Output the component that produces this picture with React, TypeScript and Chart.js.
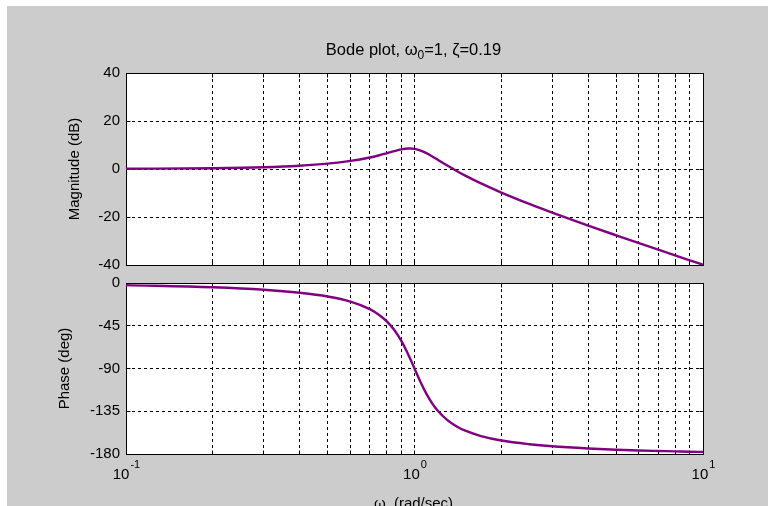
import React, { useEffect, useRef } from "react";
import { Chart, registerables } from "chart.js";

Chart.register(...registerables);

const FONT = '"Liberation Sans", Arial, Helvetica, sans-serif';

// frequency samples (rad/sec)
const omega = [0.1, 0.2, 0.3, 0.4, 0.5, 0.6, 0.7, 0.75, 0.8, 0.85, 0.9, 0.95, 0.97, 1.0, 1.05, 1.1, 1.15, 1.2, 1.3, 1.4, 1.5, 1.7, 2, 2.5, 3, 4, 5, 6, 7, 8, 9, 10];
// magnitude (dB)
const magnitudeDb = [0.08, 0.33, 0.75, 1.38, 2.23, 3.36, 4.8, 5.64, 6.54, 7.42, 8.15, 8.54, 8.56, 8.4, 7.7, 6.6, 5.3, 3.96, 1.43, -0.81, -2.76, -6.01, -9.81, -14.54, -18.15, -23.57, -27.63, -30.9, -33.64, -36.0, -38.07, -39.92];
// phase (deg)
const phaseDeg = [-2.2, -4.5, -7.1, -10.3, -14.2, -19.6, -27.5, -33.1, -40.2, -49.3, -61.0, -74.9, -80.9, -90.0, -104.4, -116.7, -126.4, -134.0, -144.4, -151.0, -155.5, -161.1, -165.8, -169.7, -171.9, -174.2, -175.5, -176.3, -176.8, -177.2, -177.6, -177.8];

const xGridTicks = [0.1, 0.2, 0.3, 0.4, 0.5, 0.6, 0.7, 0.8, 0.9, 1, 2, 3, 4, 5, 6, 7, 8, 9, 10];
const magTicks = [-40, -20, 0, 20, 40];
const phaseTicks = [-180, -135, -90, -45, 0];
const xLabelValues = [0.1, 1, 10];
const xLabelExponents = ["-1", "0", "1"];

const titleMain1 = "Bode plot, ω";
const titleSub = "0";
const titleMain2 = "=1, ζ=0.19";
const xTitle = "ω  (rad/sec)";
const magTitle = "Magnitude (dB)";
const phaseTitle = "Phase (deg)";

const LINE_COLOR = "#800080";

const align = (v: number) => Math.round(v - 0.5) + 0.5;

const plotBackground = {
  id: "plotBackground",
  beforeDraw(chart: any) {
    const { ctx, chartArea: a } = chart;
    ctx.save();
    ctx.fillStyle = "#ffffff";
    ctx.fillRect(a.left, a.top, a.right - a.left, a.bottom - a.top);
    ctx.restore();
  },
};

const frameAndTicks = {
  id: "frameAndTicks",
  beforeDatasetsDraw(chart: any) {
    const { ctx, chartArea: a, scales } = chart;
    const L = align(a.left), R = align(a.right), T = align(a.top), B = align(a.bottom);
    ctx.save();
    ctx.strokeStyle = "#000";
    ctx.lineWidth = 1;
    ctx.setLineDash([]);
    ctx.beginPath();
    ctx.rect(L, T, R - L, B - T);
    const tl = 4;
    for (const v of xGridTicks) {
      const x = align(scales.x.getPixelForValue(v));
      ctx.moveTo(x, B); ctx.lineTo(x, B - tl);
      ctx.moveTo(x, T); ctx.lineTo(x, T + tl);
    }
    for (const t of scales.y.ticks) {
      const y = align(scales.y.getPixelForValue(t.value));
      ctx.moveTo(L, y); ctx.lineTo(L + tl, y);
      ctx.moveTo(R, y); ctx.lineTo(R - tl, y);
    }
    ctx.stroke();
    ctx.restore();
  },
};

const titlePlugin = {
  id: "bodeTitle",
  afterDraw(chart: any) {
    const { ctx, chartArea: a } = chart;
    const cx = (a.left + a.right) / 2 - 1;
    const base = 55;
    ctx.save();
    ctx.fillStyle = "#000";
    ctx.textBaseline = "alphabetic";
    ctx.textAlign = "left";
    const big = `16.5px ${FONT}`;
    const small = `12px ${FONT}`;
    ctx.font = big;
    const w1 = ctx.measureText(titleMain1).width;
    const w3 = ctx.measureText(titleMain2).width;
    ctx.font = small;
    const w2 = ctx.measureText(titleSub).width;
    let x = cx - (w1 + w2 + w3) / 2;
    ctx.font = big;
    ctx.fillText(titleMain1, x, base);
    x += w1;
    ctx.font = small;
    ctx.fillText(titleSub, x, base + 4);
    x += w2;
    ctx.font = big;
    ctx.fillText(titleMain2, x, base);
    ctx.restore();
  },
};

const xLabelsPlugin = {
  id: "xLabels",
  afterDraw(chart: any) {
    const { ctx, chartArea: a, scales } = chart;
    const big = `15px ${FONT}`;
    const small = `11px ${FONT}`;
    ctx.save();
    ctx.fillStyle = "#000";
    ctx.textAlign = "left";
    ctx.textBaseline = "alphabetic";
    xLabelValues.forEach((v, i) => {
      const px = scales.x.getPixelForValue(v);
      ctx.font = big;
      const wb = ctx.measureText("10").width;
      ctx.font = small;
      const ws = ctx.measureText(xLabelExponents[i]).width;
      const start = px - (wb + ws) / 2;
      ctx.font = big;
      ctx.fillText("10", start, a.bottom + 25);
      ctx.font = small;
      ctx.fillText(xLabelExponents[i], start + wb + 1, a.bottom + 14);
    });
    ctx.font = big;
    ctx.textAlign = "center";
    ctx.fillText(xTitle, (a.left + a.right) / 2 - 1, a.bottom + 54);
    ctx.restore();
  },
};

function buildConfig(
  values: number[],
  yMin: number,
  yMax: number,
  yTicks: number[],
  yTitle: string,
  yTitlePad: number,
  padTop: number,
  xAxisHeight: number,
  extra: any[]
): any {
  const gridCommon = { color: "#000", lineWidth: 1, drawTicks: false };
  return {
    type: "line",
    data: {
      datasets: [
        {
          data: omega.map((w, i) => ({ x: w, y: values[i] })),
          borderColor: LINE_COLOR,
          backgroundColor: LINE_COLOR,
          borderWidth: 2.4,
          pointRadius: 0,
          cubicInterpolationMode: "monotone",
          fill: false,
        },
      ],
    },
    options: {
      animation: false,
      responsive: false,
      maintainAspectRatio: false,
      events: [],
      layout: { padding: { top: padTop, right: 65, bottom: 0, left: 0 } },
      plugins: { legend: { display: false }, tooltip: { enabled: false }, title: { display: false } },
      scales: {
        x: {
          type: "logarithmic",
          min: 0.1,
          max: 10,
          afterBuildTicks: (s: any) => {
            s.ticks = xGridTicks.map((v) => ({ value: v }));
          },
          afterFit: (s: any) => {
            s.height = xAxisHeight;
            s.paddingLeft = 0;
            s.paddingRight = 0;
          },
          ticks: { display: false },
          grid: gridCommon,
          border: { display: false, dash: [3, 3] },
        },
        y: {
          type: "linear",
          min: yMin,
          max: yMax,
          afterBuildTicks: (s: any) => {
            s.ticks = yTicks.map((v) => ({ value: v }));
          },
          afterFit: (s: any) => {
            s.width = 126;
            s.paddingTop = 0;
            s.paddingBottom = 0;
          },
          ticks: { color: "#000", font: { family: FONT, size: 15 }, padding: 6 },
          grid: gridCommon,
          border: { display: false, dash: [3, 3] },
          title: {
            display: true,
            text: yTitle,
            color: "#000",
            font: { family: FONT, size: 15 },
            padding: { top: yTitlePad, bottom: 0 },
          },
        },
      },
    },
    plugins: [plotBackground, frameAndTicks, ...extra],
  };
}

export default function App() {
  const magRef = useRef<HTMLCanvasElement | null>(null);
  const phaseRef = useRef<HTMLCanvasElement | null>(null);

  useEffect(() => {
    const c1 = new Chart(
      magRef.current as HTMLCanvasElement,
      buildConfig(magnitudeDb, -40, 40, magTicks, magTitle, 66, 73, 10, [titlePlugin])
    );
    const c2 = new Chart(
      phaseRef.current as HTMLCanvasElement,
      buildConfig(phaseDeg, -180, 0, phaseTicks, phaseTitle, 56, 8, 52, [xLabelsPlugin])
    );
    return () => {
      c1.destroy();
      c2.destroy();
    };
  }, []);

  return (
    <div
      style={{
        position: "fixed",
        left: 0,
        top: 0,
        width: 768,
        height: 506,
        background: "#ffffff",
        overflow: "hidden",
      }}
    >
      <div
        style={{
          position: "absolute",
          left: 7,
          top: 6,
          width: 761,
          height: 500,
          background: "#cccccc",
        }}
      />
      <canvas
        ref={magRef}
        width={768}
        height={275}
        style={{ position: "absolute", left: 0, top: 0, width: 768, height: 275 }}
      />
      <canvas
        ref={phaseRef}
        width={768}
        height={231}
        style={{ position: "absolute", left: 0, top: 275, width: 768, height: 231 }}
      />
    </div>
  );
}
